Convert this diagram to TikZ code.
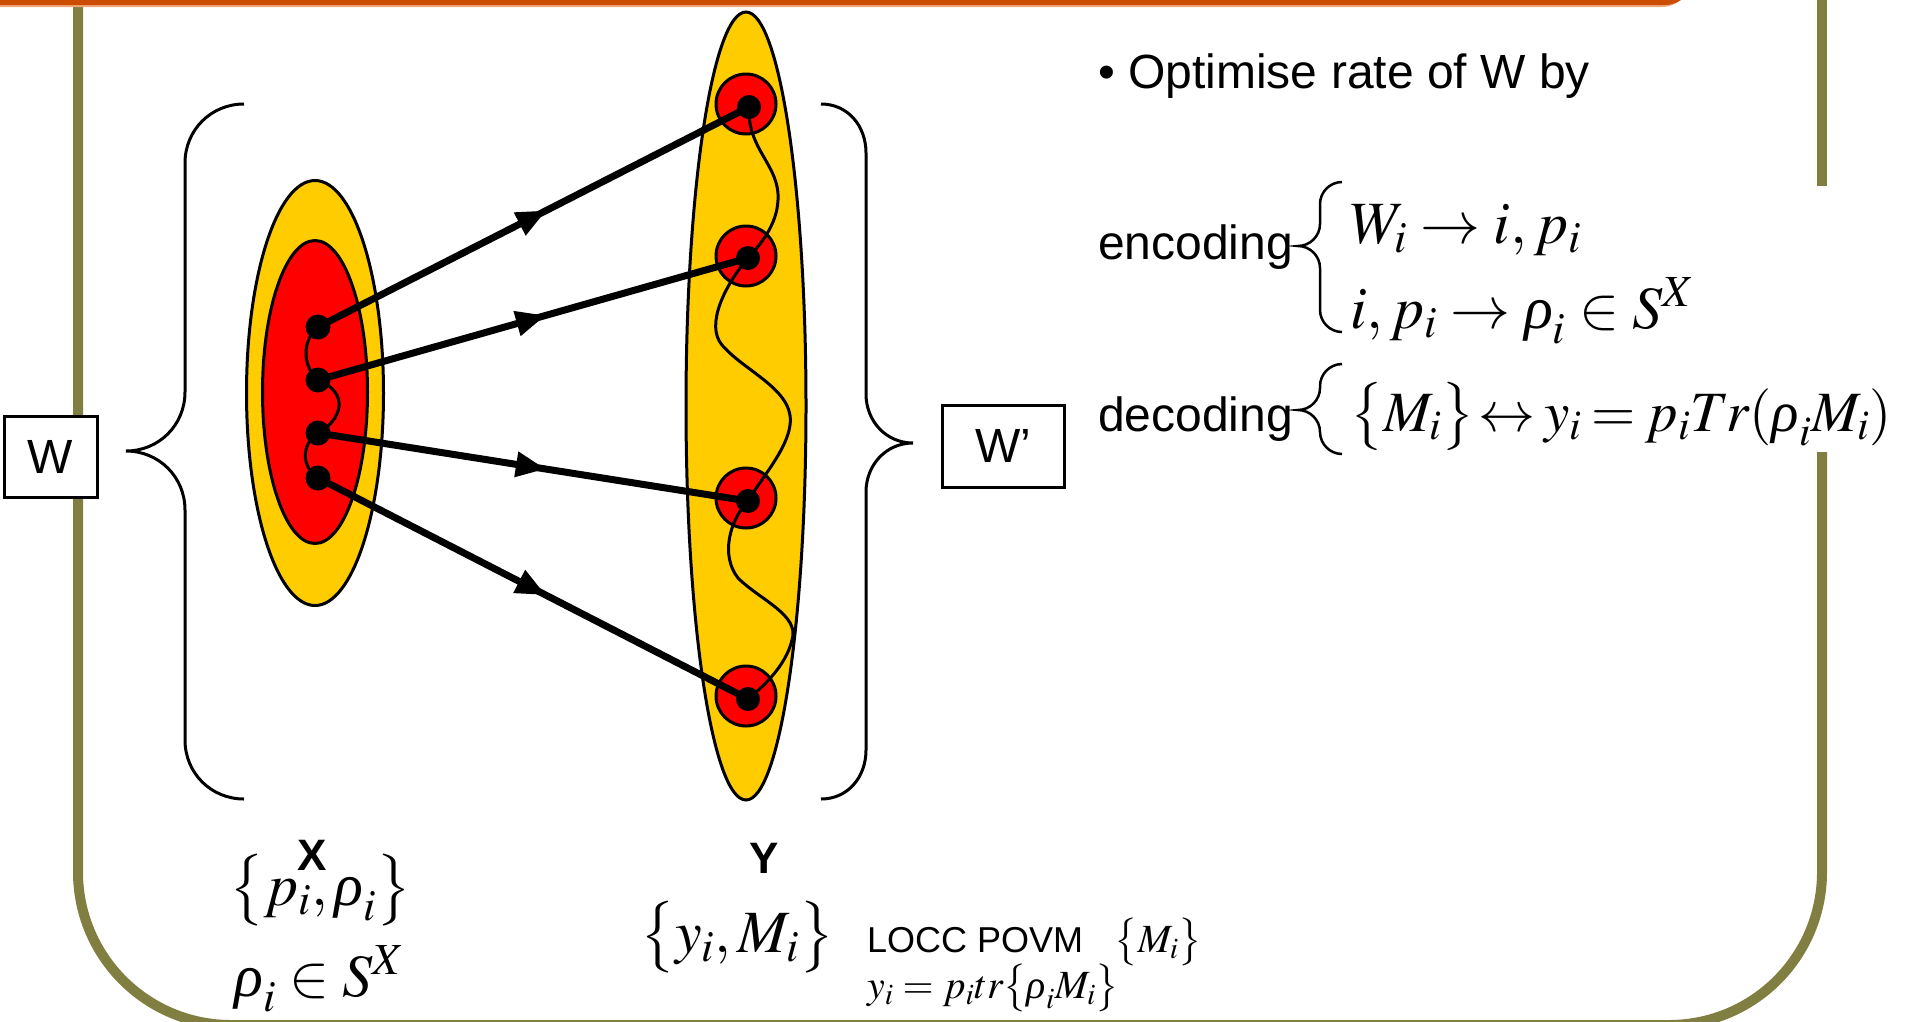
\documentclass[tikz,border=0pt]{standalone}
\usepackage{mathptmx}
\usepackage[no-math]{fontspec}
\setmainfont{Liberation Sans}
\newfontfamily\serifr{Liberation Serif}
\newcommand{\rh}{\mbox{\serifr\itshape ρ}}
\usetikzlibrary{shapes.geometric,decorations.markings,arrows.meta}
\definecolor{frameolive}{RGB}{128,126,64}
\definecolor{barorange}{RGB}{204,76,2}
\definecolor{barshade}{RGB}{240,170,120}
\definecolor{ygold}{RGB}{255,204,0}
\definecolor{rred}{RGB}{255,0,0}
\newcommand{\fsz}[1]{\fontsize{#1}{#1}\selectfont}
\tikzset{
  frameline/.style={draw=frameolive, line width=10pt},
  bigbrace/.style={draw=black, line width=3pt},
  smallbrace/.style={draw=black, line width=2.5pt},
  xouter/.style={ellipse, draw=black, line width=3pt, fill=ygold, inner sep=0pt, minimum width=137pt, minimum height=425pt},
  xinner/.style={ellipse, draw=black, line width=3pt, fill=rred, inner sep=0pt, minimum width=105pt, minimum height=303pt},
  youter/.style={ellipse, draw=black, line width=3pt, fill=ygold, inner sep=0pt, minimum width=120pt, minimum height=788pt},
  ycirc/.style={circle, draw=black, line width=3pt, fill=rred, inner sep=0pt, minimum size=60pt},
  dot/.style={circle, fill=black, inner sep=0pt, minimum size=25pt},
  wave/.style={draw=black, line width=3pt},
  conn/.style={draw=black, line width=7pt, postaction={decorate},
    decoration={markings, mark=at position 0.53 with {\arrow{Triangle[length=30pt,width=24pt]}}}},
  txt/.style={inner sep=0pt, font=\fsz{48}},
  boldlbl/.style={inner sep=0pt, font=\fsz{44}\bfseries},
  mth/.style={inner sep=0pt, font=\fsz{60}},
  mthsmall/.style={inner sep=0pt, font=\fsz{40}},
  locc/.style={inner sep=0pt, font=\fsz{36}},
  boxnode/.style={draw=black, line width=3pt, fill=white, inner sep=0pt, font=\fsz{48}}
}
\begin{document}
\begin{tikzpicture}[x=1pt,y=-1pt]
\useasboundingbox (0,0) rectangle (1913,1021);
\clip (0,0) rectangle (1913,1021);
% frame
\draw[frameline] (78,-20) -- (78,872) .. controls (78,956.5) and (146.5,1025) .. (231,1025) -- (1669,1025) .. controls (1753.5,1025) and (1822,956.5) .. (1822,872) -- (1822,452);
\draw[frameline] (1822,-20) -- (1822,186);
% title bar bottom
\fill[barshade, rounded corners=28pt] (-60,-80) rectangle (1690,7);
\fill[barorange, rounded corners=28pt] (-60,-80) rectangle (1693,5);
% big braces
\draw[bigbrace] (244,104) .. controls (211,104) and (185,130) .. (185,163) -- (185,392) .. controls (185,425) and (159,451) .. (126,451) .. controls (159,451) and (185,477) .. (185,510) -- (185,740) .. controls (185,773) and (211,799) .. (244,799);
\draw[bigbrace] (821,104) .. controls (848,104) and (866,126) .. (866,153) -- (866,394) .. controls (866,421) and (886,443) .. (913,443) .. controls (886,443) and (866,465) .. (866,492) -- (866,750) .. controls (866,777) and (848,799) .. (821,799);
% X ellipses
\node[xouter] (Xo) at (315,393) {};
\node[xinner] (Xi) at (315,392) {};
% Y ellipse
\node[youter] (Yo) at (746,406) {};
\node[ycirc] (yc1) at (746,104) {};
\node[ycirc] (yc2) at (746,256) {};
\node[ycirc] (yc3) at (746,498) {};
\node[ycirc] (yc4) at (746,696) {};
% dots
\node[dot] (xd1) at (318,327) {};
\node[dot] (xd2) at (318,380) {};
\node[dot] (xd3) at (318,433) {};
\node[dot] (xd4) at (318,478) {};
\node[dot, minimum size=24pt] (yd1) at (749,107) {};
\node[dot, minimum size=24pt] (yd2) at (748,258) {};
\node[dot, minimum size=24pt] (yd3) at (748,501) {};
\node[dot, minimum size=24pt] (yd4) at (748,699) {};
% waves
\draw[wave] (xd1.center) .. controls (302,340) and (302,366) .. (xd2.center);
\draw[wave] (xd2.center) .. controls (350,393) and (342,420) .. (xd3.center);
\draw[wave] (xd3.center) .. controls (301,445) and (301,466) .. (xd4.center);
\draw[wave] (yd1.center) .. controls (747,150) and (780,165) .. (778,200) .. controls (777,225) and (760,245) .. (yd2.center);
\draw[wave] (yd2.center) .. controls (725,285) and (705,325) .. (722,345) .. controls (745,372) and (795,390) .. (790,425) .. controls (787,450) and (760,480) .. (yd3.center);
\draw[wave] (yd3.center) .. controls (730,520) and (720,555) .. (738,578) .. controls (760,600) and (800,615) .. (792,640) .. controls (786,665) and (765,685) .. (yd4.center);
% connectors
\draw[conn] (xd1.center) -- (yd1.center);
\draw[conn] (xd2.center) -- (yd2.center);
\draw[conn] (xd3.center) -- (yd3.center);
\draw[conn] (xd4.center) -- (yd4.center);
% boxes
\node[boxnode, minimum width=93pt, minimum height=81pt] (W) at (50.5,456.5) {W};
\node[boxnode, minimum width=122pt, minimum height=82pt] (Wp) at (1003,446) {W’};
% right text
\node[txt, anchor=base west] (opt) at (1098,88) {• Optimise rate of W by};
\node[txt, anchor=base west] (enc) at (1098,259) {encoding};
\node[txt, anchor=base west] (dec) at (1098,431) {decoding};
\draw[smallbrace] (1342,182) .. controls (1330,182) and (1320,192) .. (1320,204) -- (1320,224) .. controls (1320,236) and (1310,246) .. (1298,246) .. controls (1310,246) and (1320,256) .. (1320,268) -- (1320,310) .. controls (1320,322) and (1330,332) .. (1342,332);
\draw[smallbrace] (1342,364) .. controls (1330,364) and (1320,374) .. (1320,386) -- (1320,388) .. controls (1320,400) and (1310,410) .. (1298,410) .. controls (1310,410) and (1320,420) .. (1320,432) -- (1320,432) .. controls (1320,444) and (1330,454) .. (1342,454);
\node[mth, anchor=base west] (e1) at (1350,243) {$W_i \rightarrow i, p_i$};
\node[mth, anchor=base west] (e2) at (1350,328) {$i, p_i \rightarrow \rh_i \in S^X$};
\node[mth, anchor=base west, font=\fsz{57}] (d1) at (1350,431) {$\thickmuskip=3mu \bigl\{M_i\bigr\}\!\leftrightarrow y_i = p_i Tr(\rh_i M_i)$};
% bottom labels
\node[boldlbl] (Xl) at (312,855) {X};
\node[mth, anchor=base west] (pset) at (229,905) {$\bigl\{p_i,\rh_i\bigr\}$};
\node[mth, anchor=base west] (rhos) at (234,996) {$\rh_i \in S^X$};
\node[boldlbl] (Yl) at (764,858) {Y};
\node[mth, anchor=base west] (yset) at (640,952) {$\bigl\{y_i, M_i\bigr\}$};
\node[locc, anchor=base west] (locc) at (867,952) {LOCC POVM};
\node[mthsmall, anchor=base west] (mset) at (1114,952) {$\bigl\{M_i\bigr\}$};
\node[mthsmall, anchor=base west] (yeq) at (867,998) {$y_i = p_i tr\bigl\{\rh_i M_i\bigr\}$};
\end{tikzpicture}
\end{document}
